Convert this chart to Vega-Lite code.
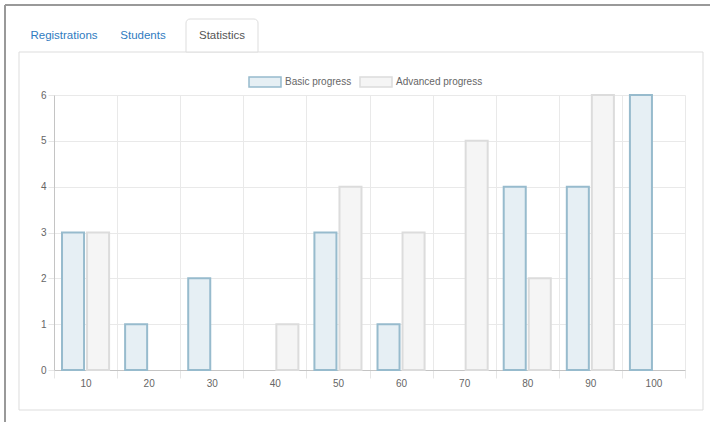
{
  "$schema": "https://vega.github.io/schema/vega-lite/v6.json",
  "padding": {"left": 3, "top": 4, "right": 0, "bottom": 0},
  "background": "white",
  "bounds": "flush",
  "config": {
    "font": "Liberation Sans",
    "view": {"stroke": null},
    "legend": {"layout": {"top": {"anchor": "middle"}}}
  },
  "spacing": 43,
  "resolve": {"legend": {"fill": "independent", "stroke": "independent"}, "scale": {"x": "independent", "y": "independent"}},
  "vconcat": [
    {
      "width": 649,
      "height": 33,
      "data": {"values": [
        {"tab": "Registrations", "order": 1, "active": false},
        {"tab": "Students", "order": 2, "active": false},
        {"tab": "Statistics", "order": 3, "active": true}
      ]},
      "layer": [
        {
          "data": {"values": [{}]},
          "mark": {"type": "rule", "stroke": "#999999", "strokeWidth": 2},
          "encoding": {
            "x": {"datum": 0.2531, "type": "quantitative", "scale": {"domain": [0.8734, 9.0886], "nice": false, "zero": false, "padding": 0}, "axis": null},
            "x2": {"datum": 9.1772},
            "y": {"datum": 1.4242, "type": "quantitative", "scale": {"domain": [0, 1], "nice": false, "zero": false, "padding": 0}, "axis": null}
          }
        },
        {
          "data": {"values": [{}]},
          "mark": {"type": "rule", "stroke": "#999999", "strokeWidth": 2},
          "encoding": {
            "x": {"datum": 0.2531, "type": "quantitative", "axis": null},
            "y": {"datum": 1.4242, "type": "quantitative", "axis": null},
            "y2": {"datum": -11.212}
          }
        },
        {
          "data": {"values": [{}]},
          "mark": {"type": "rule", "stroke": "#dddddd", "strokeWidth": 1},
          "encoding": {
            "x": {"datum": 0.4304, "type": "quantitative", "axis": null},
            "x2": {"datum": 9.0886},
            "y": {"datum": 0, "type": "quantitative", "axis": null}
          }
        },
        {
          "data": {"values": [{}]},
          "mark": {"type": "rule", "stroke": "#dddddd", "strokeWidth": 1},
          "encoding": {
            "x": {"datum": 0.4304, "type": "quantitative", "axis": null},
            "y": {"datum": 0, "type": "quantitative", "axis": null},
            "y2": {"datum": -1.303}
          }
        },
        {
          "data": {"values": [{}]},
          "mark": {"type": "rule", "stroke": "#dddddd", "strokeWidth": 1},
          "encoding": {
            "x": {"datum": 9.0886, "type": "quantitative", "axis": null},
            "y": {"datum": 0, "type": "quantitative", "axis": null},
            "y2": {"datum": -1.303}
          }
        },
        {
          "transform": [{"filter": "datum.active"}],
          "mark": {"type": "bar", "orient": "vertical", "width": 72, "fill": "white", "stroke": "#dddddd", "strokeWidth": 1, "cornerRadiusTopLeft": 4, "cornerRadiusTopRight": 4},
          "encoding": {
            "x": {"field": "order", "type": "quantitative", "axis": null},
            "y": {"datum": 1, "type": "quantitative", "axis": null},
            "y2": {"datum": 0}
          }
        },
        {
          "mark": {"type": "text", "fontSize": 11.5, "baseline": "middle"},
          "encoding": {
            "x": {"field": "order", "type": "quantitative", "axis": null},
            "text": {"field": "tab"},
            "color": {"condition": {"test": "datum.active", "value": "#555555"}, "value": "#2f7bbf"}
          }
        }
      ]
    },
    {
      "width": 631,
      "height": 275,
      "data": {"values": [
        {"score": "10", "series": "Basic progress", "value": 3},
        {"score": "10", "series": "Advanced progress", "value": 3},
        {"score": "20", "series": "Basic progress", "value": 1},
        {"score": "20", "series": "Advanced progress", "value": 0},
        {"score": "30", "series": "Basic progress", "value": 2},
        {"score": "30", "series": "Advanced progress", "value": 0},
        {"score": "40", "series": "Basic progress", "value": 0},
        {"score": "40", "series": "Advanced progress", "value": 1},
        {"score": "50", "series": "Basic progress", "value": 3},
        {"score": "50", "series": "Advanced progress", "value": 4},
        {"score": "60", "series": "Basic progress", "value": 1},
        {"score": "60", "series": "Advanced progress", "value": 3},
        {"score": "70", "series": "Basic progress", "value": 0},
        {"score": "70", "series": "Advanced progress", "value": 5},
        {"score": "80", "series": "Basic progress", "value": 4},
        {"score": "80", "series": "Advanced progress", "value": 2},
        {"score": "90", "series": "Basic progress", "value": 4},
        {"score": "90", "series": "Advanced progress", "value": 6},
        {"score": "100", "series": "Basic progress", "value": 6},
        {"score": "100", "series": "Advanced progress", "value": 0}
      ]},
      "resolve": {"scale": {"x": "independent"}},
      "layer": [
        {
          "transform": [{"filter": "datum.value > 0"}],
          "mark": {"type": "bar", "strokeWidth": 2},
          "encoding": {
            "x": {
              "field": "score", "type": "ordinal",
              "sort": ["10", "20", "30", "40", "50", "60", "70", "80", "90", "100"],
              "scale": {"domain": ["10", "20", "30", "40", "50", "60", "70", "80", "90", "100"], "paddingInner": 0, "paddingOuter": 0},
              "axis": {
                "title": null, "labelAngle": 0, "tickBand": "extent", "grid": true,
                "gridColor": "#e9e9e9", "tickColor": "#e6e6e6", "tickSize": 8,
                "domainColor": "#c4c4c4", "labelFontSize": 10, "labelColor": "#666666",
                "labelPadding": 0
              }
            },
            "xOffset": {
              "field": "series", "type": "nominal",
              "sort": ["Basic progress", "Advanced progress"],
              "scale": {"paddingInner": 0.12, "paddingOuter": 0.32}
            },
            "y": {
              "field": "value", "type": "quantitative",
              "scale": {"domain": [0, 6], "nice": false},
              "axis": {
                "title": null, "values": [0, 1, 2, 3, 4, 5, 6], "grid": true,
                "gridColor": "#e9e9e9", "tickColor": "#e6e6e6", "tickSize": 6,
                "domainColor": "#c4c4c4", "labelFontSize": 10, "labelColor": "#666666",
                "labelPadding": 2
              }
            },
            "fill": {
              "field": "series", "type": "nominal",
              "scale": {"domain": ["Basic progress", "Advanced progress"], "range": ["#e6eff4", "#f5f5f5"]},
              "legend": {
                "orient": "top", "direction": "horizontal", "title": null,
                "symbolType": "M-2,-0.625H2V0.625H-2Z", "symbolSize": 256, "symbolStrokeWidth": 1.5,
                "labelFontSize": 10, "labelColor": "#666666", "labelOffset": 11, "columnPadding": 5, "offset": 5
              }
            },
            "stroke": {
              "field": "series", "type": "nominal",
              "scale": {"domain": ["Basic progress", "Advanced progress"], "range": ["#97bbcd", "#dcdcdc"]}
            }
          }
        },
        {
          "data": {"values": [{}]},
          "mark": {"type": "rule", "stroke": "#dddddd", "strokeWidth": 1},
          "encoding": {
            "x": {"datum": -0.05547, "type": "quantitative", "scale": {"domain": [0, 1], "nice": false, "zero": false}, "axis": null},
            "y": {"datum": 6, "type": "quantitative"},
            "y2": {"datum": -0.873}
          }
        },
        {
          "data": {"values": [{}]},
          "mark": {"type": "rule", "stroke": "#dddddd", "strokeWidth": 1},
          "encoding": {
            "x": {"datum": 1.02853, "type": "quantitative", "scale": {"domain": [0, 1], "nice": false, "zero": false}, "axis": null},
            "y": {"datum": 6, "type": "quantitative"},
            "y2": {"datum": -0.873}
          }
        },
        {
          "data": {"values": [{}]},
          "mark": {"type": "rule", "stroke": "#dddddd", "strokeWidth": 1},
          "encoding": {
            "x": {"datum": -0.05547, "type": "quantitative", "scale": {"domain": [0, 1], "nice": false, "zero": false}, "axis": null},
            "x2": {"datum": 1.02853},
            "y": {"datum": -0.873, "type": "quantitative"}
          }
        }
      ]
    }
  ]
}
